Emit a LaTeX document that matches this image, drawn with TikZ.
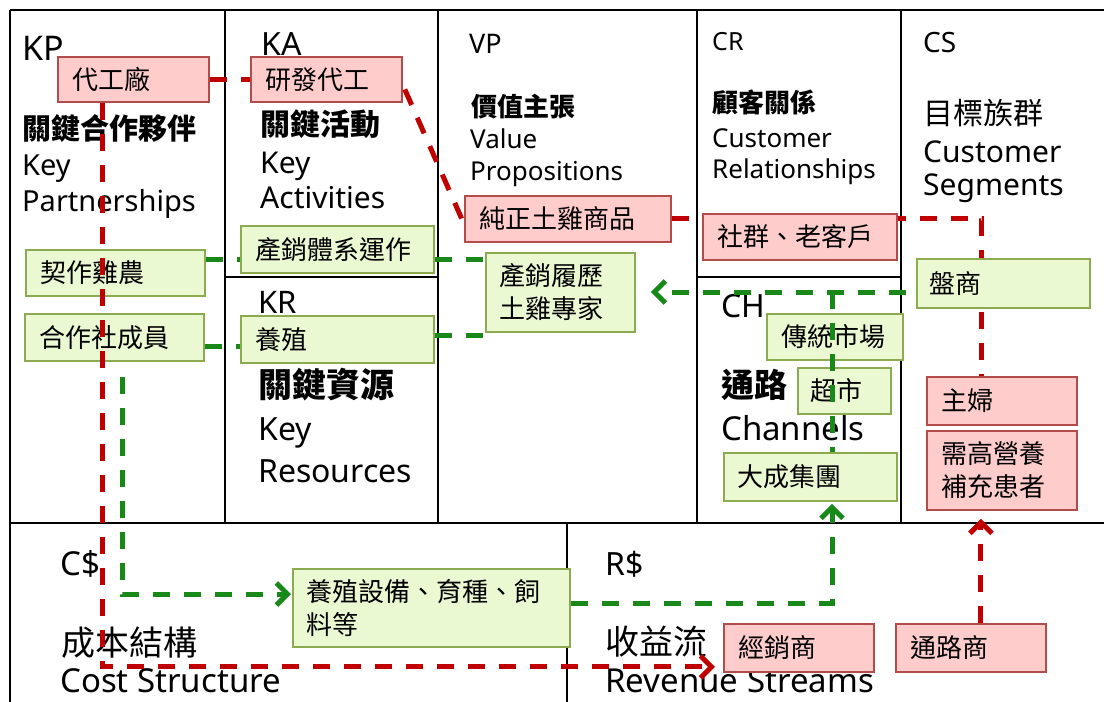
\documentclass[tikz,border=0pt]{standalone}
\usepackage{fontspec}
\setmainfont{Noto Sans}
\newfontfamily\cjk{Noto Sans CJK TC}
\usetikzlibrary{arrows.meta,calc}
\newcommand\fsz[1]{\fontsize{#1}{#1}\selectfont}
\definecolor{pinkfill}{RGB}{255,204,204}
\definecolor{pinkline}{RGB}{180,75,75}
\definecolor{greenfill}{RGB}{235,249,210}
\definecolor{greenline}{RGB}{140,170,80}
\definecolor{redline}{RGB}{192,0,0}
\definecolor{grnline}{RGB}{24,136,24}
\begin{document}
\begin{tikzpicture}[x=1pt,y=-1pt,
  frame/.style={line width=2.8pt, black},
  lbl/.style={anchor=base west, inner sep=0pt},
  boxbase/.style={anchor=north west, inner xsep=15pt, inner ysep=0pt, align=left, line width=1.8pt, font=\cjk\fontsize{26}{33}\selectfont},
  pbox/.style 2 args={boxbase, draw=pinkline, fill=pinkfill, text width=#1pt, minimum height=#2pt},
  gbox/.style 2 args={boxbase, draw=greenline, fill=greenfill, text width=#1pt, minimum height=#2pt},
  rline/.style={draw=redline, line width=5pt, dash pattern=on 17pt off 14pt},
  gline/.style={draw=grnline, line width=5pt, dash pattern=on 17pt off 14pt},
  tip/.style={-{Straight Barb[length=11pt,width=22pt]}},
]
\useasboundingbox (0,0) rectangle (1104,702);
% frame
\draw[frame] (10,10) -- (1108,10);
\draw[frame] (10,10) -- (10,706);
\draw[frame] (10,523) -- (1108,523);
\draw[frame] (225,10) -- (225,523);
\draw[frame] (438,10) -- (438,523);
\draw[frame] (697,10) -- (697,523);
\draw[frame] (901,10) -- (901,523);
\draw[frame] (225,277) -- (438,277);
\draw[frame] (697,277) -- (901,277);
\draw[frame] (567,523) -- (567,706);
% headings
\node[lbl, font=\fsz{34}] (kpA) at (22,60) {KP};
\node[lbl, font=\cjk\bfseries\fsz{29}] (kpB) at (22,139) {關鍵合作夥伴};
\node[lbl, font=\fsz{29}] (kpC) at (22,175) {Key};
\node[lbl, font=\fsz{29}] (kpD) at (22,211) {Partnerships};
\node[lbl, font=\fsz{32}] (kaA) at (261,55) {KA};
\node[lbl, font=\cjk\bfseries\fsz{30}] (kaB) at (260,135) {關鍵活動};
\node[lbl, font=\fsz{30}] (kaC) at (260,173) {Key};
\node[lbl, font=\fsz{30}] (kaD) at (260,208) {Activities};
\node[lbl, font=\fsz{27}] (vpA) at (469,53) {VP};
\node[lbl, font=\cjk\bfseries\fsz{26}] (vpB) at (471,116) {價值主張};
\node[lbl, font=\fsz{26}] (vpC) at (470,148) {Value};
\node[lbl, font=\fsz{26}] (vpD) at (470,180) {Propositions};
\node[lbl, font=\fsz{25}] (crA) at (712,50) {CR};
\node[lbl, font=\cjk\bfseries\fsz{26}] (crB) at (712,112) {顧客關係};
\node[lbl, font=\fsz{26}] (crC) at (712,147) {Customer};
\node[lbl, font=\fsz{26}] (crD) at (712,178) {Relationships};
\node[lbl, font=\fsz{28}] (csA) at (923,52) {CS};
\node[lbl, font=\cjk\fsz{30}] (csB) at (923,124) {目標族群};
\node[lbl, font=\fsz{30}] (csC) at (923,162) {Customer};
\node[lbl, font=\fsz{30}] (csD) at (923,195) {Segments};
\node[lbl, font=\fsz{31}] (krA) at (258,313) {KR};
\node[lbl, font=\cjk\bfseries\fsz{34}] (krB) at (258,397) {關鍵資源};
\node[lbl, font=\fsz{32}] (krC) at (258,440) {Key};
\node[lbl, font=\fsz{32}] (krD) at (258,482) {Resources};
\node[lbl, font=\fsz{32}] (chA) at (721,317) {CH};
\node[lbl, font=\cjk\bfseries\fsz{33}] (chB) at (721,397) {通路};
\node[lbl, font=\fsz{33}] (chC) at (721,440) {Channels};
\node[lbl, font=\fsz{33}] (csA2) at (60,575) {C\$};
\node[lbl, font=\cjk\fsz{34}] (csB2) at (61,655) {成本結構};
\node[lbl, font=\fsz{33}] (csC2) at (60,692) {Cost Structure};
\node[lbl, font=\fsz{32}] (rsA) at (605,575) {R\$};
\node[lbl, font=\cjk\fsz{34}] (rsB) at (605,654) {收益流};
\node[lbl, font=\fsz{33}] (rsC) at (605,692) {Revenue Streams};
% boxes
\node[pbox={121}{45}] (daigong) at (57,56) {代工廠};
\node[pbox={121}{45}] (yanfa) at (250,56) {研發代工};
\node[pbox={176}{46}] (chunzheng) at (464,195) {純正土雞商品};
\node[pbox={120}{48}] (zhufu) at (926,376) {主婦};
\node[pbox={120}{79}] (xugao) at (926,430) {需高營養\\補充患者};
\node[pbox={120}{48}] (jingxiao) at (723,623) {經銷商};
\node[pbox={120}{48}] (tonglu) at (895,623) {通路商};
\node[gbox={149}{46}] (qizuo) at (25,249) {契作雞農};
\node[gbox={163}{47}] (chanxiao) at (240,225) {產銷體系運作};
\node[gbox={149}{47}] (hezuo) at (24,313) {合作社成員};
\node[gbox={163}{47}] (yangzhi) at (240,315) {養殖};
\node[gbox={121}{79}, inner xsep=14pt] (lvli) at (485,252) {產銷履歷\\土雞專家};
\node[gbox={106}{46}] (chuantong) at (766,313) {傳統市場};
\node[gbox={67}{46}, inner xsep=13pt] (chaoshi) at (797,367) {超市};
\node[gbox={145}{48}, inner xsep=14pt] (dacheng) at (723,452) {大成集團};
\node[gbox={249}{78}, inner xsep=14pt] (shebei) at (292,568) {養殖設備、育種、飼\\料等};
% red line passing behind boxes
\draw[rline] (chunzheng.east) -| ($(zhufu.north)+(-20,0)$);
\node[pbox={164}{46}] (shequn) at (702,213) {社群、老客戶};
\node[gbox={147}{49}, inner xsep=13pt] (panshang) at (916,258) {盤商};
% connectors
\coordinate (rs) at ($(daigong.south west)+(45,0)$);
\coordinate (junc) at (832,292);
\coordinate (g8s) at (122,377);
\draw[rline] (daigong.east) -- (yanfa.west);
\draw[rline] ($(yanfa.east)+(2,10)$) -- ($(chunzheng.west)+(0,5)$);
\draw[rline, tip] (rs) |- ($(jingxiao.west)+(-8,19)$);
\draw[rline, tip] ($(tonglu.north)+(10,0)$) -- ($(tonglu.north |- xugao.south)+(10,8)$);
\draw[gline] (qizuo.east |- 0,259) -- (chanxiao.west |- 0,259);
\draw[gline] (chanxiao.east |- 0,259) -- (lvli.west |- 0,259);
\draw[gline] (hezuo.east |- 0,346) -- (yangzhi.west |- 0,346);
\draw[gline] (yangzhi.east |- 0,335) -- (lvli.west |- 0,335);
\draw[gline, tip] ($(panshang.west |- 0,292)+(-10,0)$) -- ($(lvli.east |- 0,292)+(15,0)$);
\draw[gline] (junc) -- (dacheng.north -| junc);
\draw[gline, tip] (shebei.east |- 0,603) -| ($(dacheng.south -| junc)+(0,2)$);
\draw[gline, tip] (g8s) |- ($(shebei.west |- 0,594)+(-1,0)$);
\end{tikzpicture}
\end{document}
